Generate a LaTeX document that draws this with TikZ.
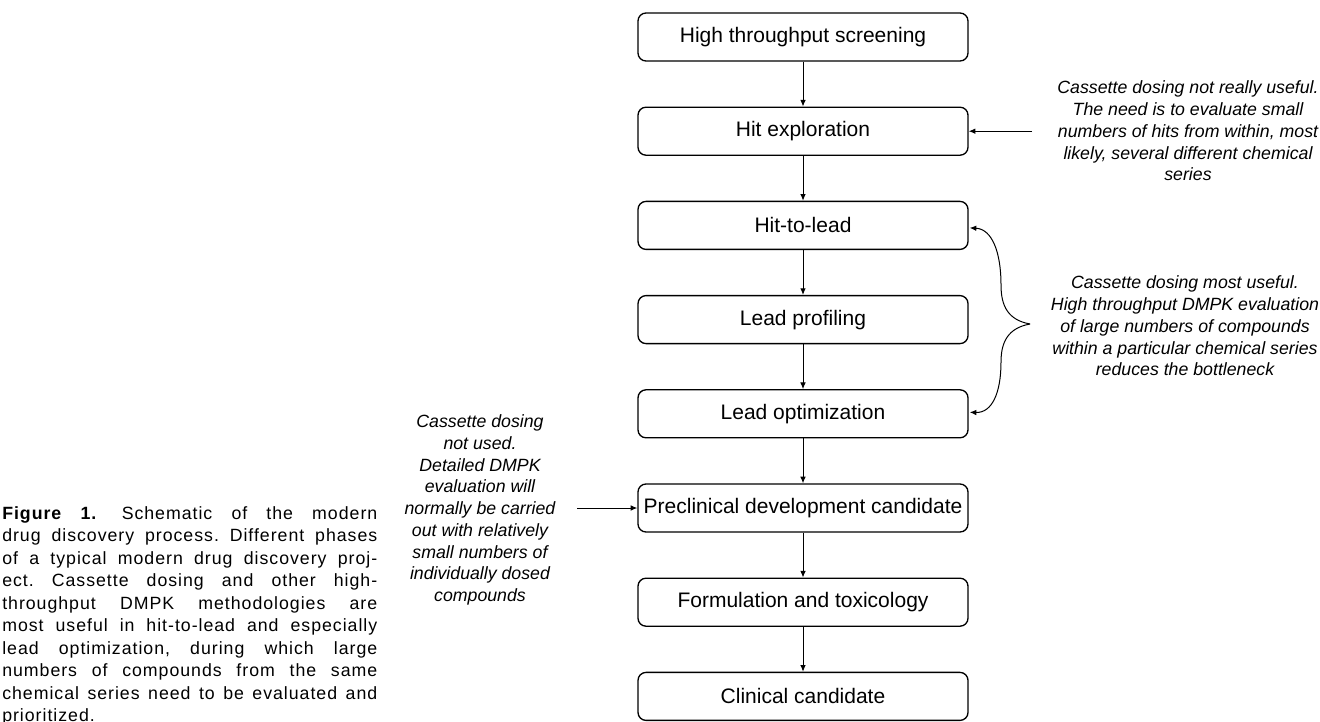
\documentclass[tikz,border=0pt]{standalone}
\usepackage{fontspec}
\setmainfont{Liberation Sans}
\newfontfamily\capfont[LetterSpace=5.5]{Liberation Sans}
\usetikzlibrary{arrows.meta,calc}
\begin{document}
\frenchspacing
\begin{tikzpicture}[x=0.75pt,y=-0.75pt,
  stage/.style={draw, line width=1pt, rounded corners=6pt, minimum width=247.5pt, minimum height=36pt, inner sep=0pt, font=\fontsize{15.75}{18}\selectfont},
  arr/.style={line width=0.75pt, -{Latex[length=5pt,width=4.2pt]}},
  note/.style={align=center, font=\fontsize{13.3}{16.3}\selectfont\itshape, inner sep=0pt},
  capstyle/.style={anchor=north west, inner sep=0pt, text width=281.25pt, align=justify, font=\capfont\fontsize{13.3}{16.9}\selectfont\frenchspacing}
]
\useasboundingbox (0,0) rectangle (1320,721);
\fill[white] (0,0) rectangle (1320,721);

\node[stage] (b1) at (803,37) {High throughput screening};
\node[stage] (b2) at (803,131.2) {Hit exploration};
\node[stage] (b3) at (803,225.4) {Hit-to-lead};
\node[stage] (b4) at (803,319.6) {Lead profiling};
\node[stage] (b5) at (803,413.8) {Lead optimization};
\node[stage] (b6) at (803,508) {Preclinical development candidate};
\node[stage] (b7) at (803,602.2) {Formulation and toxicology};
\node[stage] (b8) at (803,696.4) {Clinical candidate};

\draw[arr] (b1) -- (b2);
\draw[arr] (b2) -- (b3);
\draw[arr] (b3) -- (b4);
\draw[arr] (b4) -- (b5);
\draw[arr] (b5) -- (b6);
\draw[arr] (b6) -- (b7);
\draw[arr] (b7) -- (b8);

\node[note] (n1) at (1188,131) {Cassette dosing not really useful.\\The need is to evaluate small\\numbers of hits from within, most\\likely, several different chemical\\series};
\coordinate (a1) at (1032,131.2);
\draw[arr] (a1) -- (a1 -| b2.east);

\node[note] (n2) at (1185,326) {Cassette dosing most useful.\\High throughput DMPK evaluation\\of large numbers of compounds\\within a particular chemical series\\reduces the bottleneck};
\coordinate (tip) at (1030,324);
\draw[arr] (tip) .. controls (1008,320) and (1001,306) .. (1001,285) .. controls (1001,252) and (992,229) .. ($(b3.east)+(1,2.5)$);
\draw[arr] (tip) .. controls (1008,328) and (1001,342) .. (1001,362) .. controls (1001,393) and (992,413) .. ($(b5.east)+(1,-1.5)$);

\node[note] (n3) at (480,510) {Cassette dosing\\not used.\\Detailed DMPK\\evaluation will\\normally be carried\\out with relatively\\small numbers of\\individually dosed\\compounds};
\coordinate (a2) at (577,508);
\draw[arr] (a2) -- (a2 -| b6.west);

\node[capstyle] (cap) at (2,506) {\textbf{Figure 1.}\hspace{0.3em} Schematic of the modern\linebreak drug discovery process. Different phases\linebreak of a typical modern drug discovery proj-\linebreak ect. Cassette dosing and other high-\linebreak throughput DMPK methodologies are\linebreak most useful in hit-to-lead and especially\linebreak lead optimization, during which large\linebreak numbers of compounds from the same\linebreak chemical series need to be evaluated and\linebreak prioritized.};
\end{tikzpicture}
\end{document}
